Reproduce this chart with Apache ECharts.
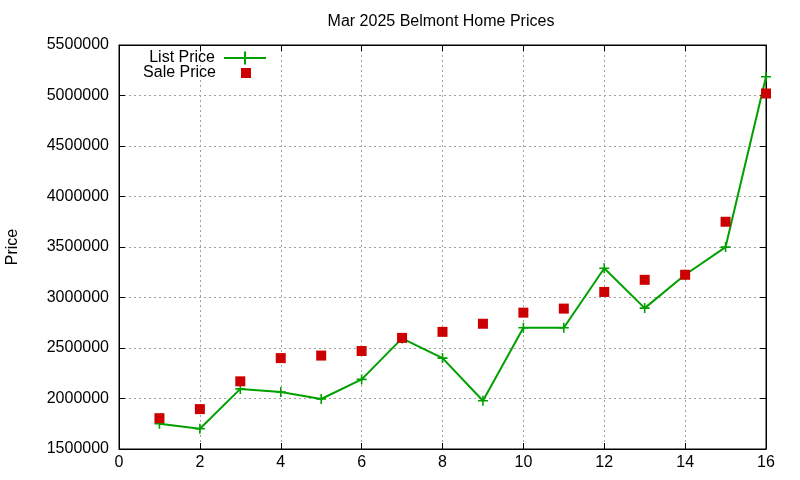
<!DOCTYPE html>
<html>
<head>
<meta charset="utf-8">
<script src="https://cdn.jsdelivr.net/npm/echarts@6/dist/echarts.min.js"></script>
<style>
html,body{margin:0;padding:0;background:#fff;}
#chart{width:800px;height:480px;}
</style>
</head>
<body>
<div id="chart"></div>
<script>
// ---- data ----
const homeIndex = [1, 2, 3, 4, 5, 6, 7, 8, 9, 10, 11, 12, 13, 14, 15, 16];
const listPrice = [1750000, 1700000, 2095000, 2065000, 1995000, 2189000, 2595000, 2400000, 1978000, 2700000, 2700000, 3290000, 2895000, 3225000, 3499000, 5185000];
const salePrice = [1805000, 1895000, 2170000, 2400000, 2425000, 2470000, 2600000, 2660000, 2740000, 2850000, 2890000, 3055000, 3175000, 3225000, 3750000, 5020000];
const xTicks = [0, 2, 4, 6, 8, 10, 12, 14, 16];
const yTicks = [1500000, 2000000, 2500000, 3000000, 3500000, 4000000, 4500000, 5000000, 5500000];

const FONT = '"Liberation Sans", Arial, sans-serif';
const plusSymbol = 'path://M0,4.2h10v1.6h-10z M4.2,0h1.6v10h-1.6z';
const squareLegend = 'path://M16,0h10v10h-10z M0,4.99h0.01v0.01h-0.01z M42,4.99h0.01v0.01h-0.01z';

const chart = echarts.init(document.getElementById('chart'), null, {renderer: 'canvas'});

const gridLine = {show: true, lineStyle: {color: '#a0a0a0', type: [2, 3], width: 1}};

chart.setOption({
  animation: false,
  backgroundColor: '#ffffff',
  title: {
    text: 'Mar 2025 Belmont Home Prices',
    left: 436, top: 9, textAlign: 'center',
    textStyle: {fontFamily: FONT, fontSize: 16, fontWeight: 'normal', color: '#000'}
  },
  legend: [
    {
      data: ['List Price'], orient: 'vertical', align: 'right',
      right: 533, top: 50, padding: 0, itemWidth: 42, itemHeight: 16,
      textStyle: {fontFamily: FONT, fontSize: 16, color: '#000', padding: [0, 4, 0, 0]}
    },
    {
      data: [{name: 'Sale Price', icon: squareLegend}], orient: 'vertical', align: 'right',
      right: 533, top: 65, padding: 0, itemWidth: 42, itemHeight: 10,
      textStyle: {fontFamily: FONT, fontSize: 16, color: '#000', padding: [0, 4, 0, 0]}
    }
  ],
  grid: {left: 119, right: 34, top: 45, bottom: 31, outerBoundsMode: 'none', containLabel: false,
         show: true, borderColor: '#000', borderWidth: 1, backgroundColor: 'transparent'},
  xAxis: [
    {
      type: 'value', min: xTicks[0], max: xTicks[xTicks.length - 1], interval: 2,
      axisLine: {show: true, onZero: false, lineStyle: {color: '#000', width: 1}},
      axisTick: {show: true, inside: true, length: 6, lineStyle: {color: '#000'}},
      axisLabel: {fontFamily: FONT, fontSize: 16, color: '#000', margin: 6},
      splitLine: gridLine
    },
    {
      type: 'value', position: 'top', min: xTicks[0], max: xTicks[xTicks.length - 1], interval: 2,
      axisLine: {show: true, onZero: false, lineStyle: {color: '#000', width: 1}},
      axisTick: {show: true, inside: true, length: 6, lineStyle: {color: '#000'}},
      axisLabel: {show: false}, splitLine: {show: false}
    }
  ],
  yAxis: [
    {
      type: 'value', min: yTicks[0], max: yTicks[yTicks.length - 1], interval: 500000,
      name: 'Price', nameLocation: 'middle', nameGap: 98, nameRotate: 90,
      nameTextStyle: {fontFamily: FONT, fontSize: 16, color: '#000'},
      axisLine: {show: true, onZero: false, lineStyle: {color: '#000', width: 1}},
      axisTick: {show: true, inside: true, length: 6, lineStyle: {color: '#000'}},
      axisLabel: {fontFamily: FONT, fontSize: 16, color: '#000', margin: 10, formatter: v => String(v)},
      splitLine: gridLine
    },
    {
      type: 'value', position: 'right', min: yTicks[0], max: yTicks[yTicks.length - 1], interval: 500000,
      axisLine: {show: true, onZero: false, lineStyle: {color: '#000', width: 1}},
      axisTick: {show: true, inside: true, length: 6, lineStyle: {color: '#000'}},
      axisLabel: {show: false}, splitLine: {show: false}
    }
  ],
  series: [
    {
      name: 'List Price', type: 'line',
      data: homeIndex.map((x, i) => [x, listPrice[i]]),
      symbol: plusSymbol, symbolSize: 10, showSymbol: true,
      lineStyle: {color: '#00a000', width: 2},
      itemStyle: {color: '#00a000', opacity: 1},
      z: 3
    },
    {
      name: 'Sale Price', type: 'scatter',
      data: homeIndex.map((x, i) => [x, salePrice[i]]),
      symbol: 'rect', symbolSize: 10,
      itemStyle: {color: '#cc0000', opacity: 1},
      z: 4
    }
  ]
});
</script>
</body>
</html>
